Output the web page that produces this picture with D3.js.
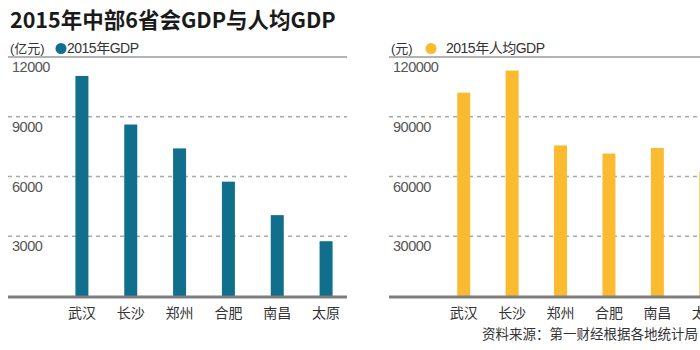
<!DOCTYPE html>
<html lang="zh">
<head>
    <meta charset="UTF-8">
    <title>2015年中部6省会GDP与人均GDP</title>
    <script src="https://d3js.org/d3.v7.min.js"></script>
    <style>
        body { margin: 0; background: #fff; overflow: hidden; }
        text { font-family: "Liberation Sans", "Noto Sans CJK SC", sans-serif; }
    </style>
</head>
<body>
<script>
    const width = 700;
    const height = 350;

    // data
    const cities = ["武汉", "长沙", "郑州", "合肥", "南昌", "太原"];
    const gdp = [11050, 8610, 7410, 5740, 4060, 2750];          // 亿元
    const gdpPerCapita = [102100, 113200, 75600, 71500, 74300, 62200]; // 元
    const gdpTicks = [3000, 6000, 9000, 12000];
    const perCapitaTicks = [30000, 60000, 90000, 120000];

    const svg = d3.select("body").append("svg")
            .attr("width", width).attr("height", height);

    svg.append("text")
            .attr("x", 10).attr("y", 28)
            .style("font-family", "'Noto Sans CJK SC', sans-serif")
            .style("font-weight", "bold")
            .style("font-size", "21.5px")
            .style("fill", "#1a1a1a")
            .text("2015年中部6省会GDP与人均GDP");

    const baseY = 296;
    const topY = 57;

    function panel(opt) {
        const y = d3.scaleLinear().domain([0, opt.max]).range([baseY, topY]);
        const x = d3.scalePoint().domain(cities).range(opt.xRange).padding(0.5);
        const g = svg.append("g");

        // dashed gridlines
        g.selectAll("line.grid")
                .data(opt.ticks.filter(d => d < opt.max))
                .enter().append("line")
                .attr("x1", opt.left).attr("x2", opt.right)
                .attr("y1", d => y(d)).attr("y2", d => y(d))
                .style("stroke", "#a9a9a9")
                .style("stroke-width", 1.3)
                .style("stroke-dasharray", "4,4");

        // header line at the top value
        g.append("line")
                .attr("x1", opt.left).attr("x2", opt.right)
                .attr("y1", y(opt.max)).attr("y2", y(opt.max))
                .style("stroke", "#9a9a9a")
                .style("stroke-width", 1.5);

        g.selectAll("text.tick")
                .data(opt.ticks)
                .enter().append("text")
                .attr("x", opt.left + 4)
                .attr("y", d => y(d) + 15)
                .style("font-size", "14.5px")
                .style("fill", "#555")
                .style("letter-spacing", "-0.5px")
                .text(d => d);

        g.selectAll("rect.bar")
                .data(opt.values)
                .enter().append("rect")
                .attr("x", (d, i) => x(cities[i]) - 6.5)
                .attr("width", 13)
                .attr("y", d => y(d))
                .attr("height", d => baseY - y(d))
                .style("fill", opt.color);

        // baseline
        g.append("line")
                .attr("x1", opt.left).attr("x2", opt.right)
                .attr("y1", baseY + 1).attr("y2", baseY + 1)
                .style("stroke", "#7d7d7d")
                .style("stroke-width", 3);

        g.selectAll("text.cat")
                .data(cities)
                .enter().append("text")
                .attr("x", d => x(d))
                .attr("y", 318)
                .attr("text-anchor", "middle")
                .style("font-family", "'Noto Sans CJK SC', sans-serif")
                .style("font-size", "14px")
                .style("fill", "#333")
                .text(d => d);

        // legend
        g.append("text")
                .attr("x", opt.left + 2).attr("y", 53)
                .style("font-size", "13px")
                .style("fill", "#333")
                .text(opt.unit);
        g.append("circle")
                .attr("cx", opt.dotX).attr("cy", 48.5).attr("r", 5.5)
                .style("fill", opt.color);
        g.append("text")
                .attr("x", opt.dotX + opt.gap).attr("y", 53)
                .style("font-size", "14px")
                .style("fill", "#333")
                .style("letter-spacing", "-0.5px")
                .text(opt.label);
    }

    panel({
        values: gdp, max: 12000, ticks: gdpTicks,
        xRange: [57.5, 350.5], left: 8, right: 347,
        color: "#0f6f8c", unit: "(亿元)", label: "2015年GDP",
        dotX: 61, gap: 6
    });

    panel({
        values: gdpPerCapita, max: 120000, ticks: perCapitaTicks,
        xRange: [439.5, 730], left: 389, right: 760,
        color: "#fbbb30", unit: "(元)", label: "2015年人均GDP",
        dotX: 431, gap: 15
    });

    svg.append("text")
            .attr("x", 482).attr("y", 339)
            .style("font-family", "'Noto Sans CJK SC', sans-serif")
            .style("font-size", "13.5px")
            .style("fill", "#333")
            .text("资料来源：第一财经根据各地统计局");
</script>
</body>
</html>
